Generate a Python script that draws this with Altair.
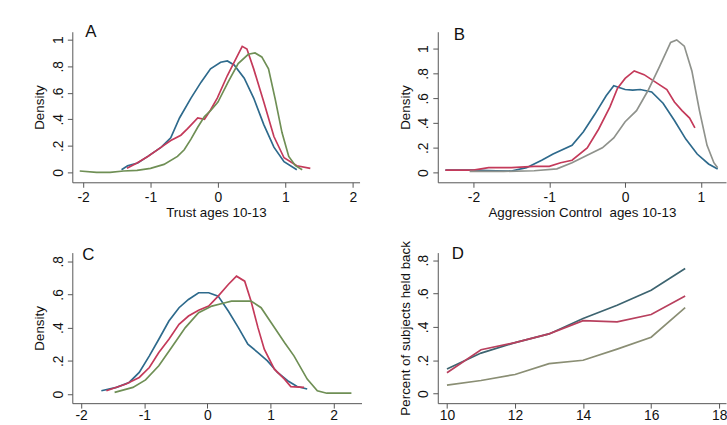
import altair as alt
import pandas as pd

FONT = "Liberation Sans"

# ---------------- Panel A : Trust ages 10-13 ----------------
a_blue_x = [-1.43, -1.34, -1.19, -1.04, -0.84, -0.70, -0.57, -0.40, -0.25, -0.11, 0.04, 0.14, 0.24, 0.39, 0.53, 0.68, 0.83, 0.98, 1.17]
a_blue_y = [0.02, 0.05, 0.07, 0.12, 0.19, 0.26, 0.41, 0.56, 0.68, 0.78, 0.83, 0.84, 0.81, 0.71, 0.56, 0.36, 0.19, 0.08, 0.02]
a_red_x = [-1.35, -1.2, -1.04, -0.84, -0.7, -0.55, -0.45, -0.30, -0.20, -0.11, -0.01, 0.14, 0.29, 0.36, 0.43, 0.53, 0.68, 0.83, 0.98, 1.17, 1.37]
a_red_y = [0.03, 0.07, 0.12, 0.19, 0.24, 0.28, 0.33, 0.41, 0.40, 0.47, 0.56, 0.73, 0.88, 0.95, 0.93, 0.78, 0.53, 0.27, 0.11, 0.05, 0.03]
a_green_x = [-2.05, -1.8, -1.6, -1.4, -1.2, -1.0, -0.8, -0.6, -0.5, -0.4, -0.3, -0.2, -0.1, 0.0, 0.15, 0.3, 0.45, 0.55, 0.65, 0.75, 0.85, 0.95, 1.05, 1.15, 1.25]
a_green_y = [0.01, 0.0, 0.0, 0.01, 0.015, 0.03, 0.06, 0.12, 0.17, 0.25, 0.34, 0.42, 0.47, 0.53, 0.68, 0.82, 0.89, 0.90, 0.87, 0.78, 0.55, 0.30, 0.12, 0.05, 0.02]

# ---------------- Panel B : Aggression Control ages 10-13 ----------------
b_blue_x = [-2.37, -2.0, -1.7, -1.5, -1.3, -1.1, -0.95, -0.7, -0.55, -0.4, -0.25, -0.15, 0.0, 0.1, 0.2, 0.35, 0.5, 0.65, 0.8, 0.95, 1.1, 1.22]
b_blue_y = [0.02, 0.02, 0.015, 0.013, 0.04, 0.10, 0.15, 0.22, 0.33, 0.47, 0.62, 0.70, 0.67, 0.665, 0.67, 0.65, 0.56, 0.42, 0.27, 0.15, 0.07, 0.03]
b_red_x = [-2.37, -2.0, -1.8, -1.5, -1.2, -1.0, -0.85, -0.7, -0.5, -0.35, -0.2, -0.1, 0.0, 0.12, 0.25, 0.4, 0.55, 0.65, 0.75, 0.85, 0.92]
b_red_y = [0.02, 0.02, 0.04, 0.04, 0.05, 0.05, 0.08, 0.10, 0.20, 0.35, 0.53, 0.68, 0.76, 0.82, 0.79, 0.73, 0.67, 0.57, 0.50, 0.44, 0.36]
b_grey_x = [-2.05, -1.6, -1.2, -0.9, -0.7, -0.5, -0.3, -0.15, 0.0, 0.15, 0.3, 0.45, 0.6, 0.68, 0.78, 0.88, 0.98, 1.08, 1.17, 1.22]
b_grey_y = [0.01, 0.01, 0.015, 0.03, 0.08, 0.14, 0.20, 0.28, 0.41, 0.50, 0.66, 0.85, 1.05, 1.07, 1.02, 0.82, 0.50, 0.22, 0.08, 0.04]

# ---------------- Panel C ----------------
c_blue_x = [-1.68, -1.44, -1.24, -1.08, -0.92, -0.77, -0.61, -0.45, -0.30, -0.14, 0.02, 0.17, 0.33, 0.49, 0.64, 0.80, 0.95, 1.11, 1.27, 1.42, 1.58]
c_blue_y = [0.02, 0.04, 0.07, 0.13, 0.23, 0.33, 0.44, 0.52, 0.57, 0.61, 0.61, 0.59, 0.50, 0.40, 0.30, 0.25, 0.20, 0.13, 0.08, 0.045, 0.03]
c_red_x = [-1.6, -1.29, -1.08, -0.92, -0.77, -0.61, -0.45, -0.30, -0.14, 0.02, 0.17, 0.33, 0.46, 0.59, 0.69, 0.80, 0.90, 1.06, 1.22, 1.32, 1.53]
c_red_y = [0.02, 0.06, 0.10, 0.16, 0.25, 0.33, 0.42, 0.47, 0.505, 0.53, 0.59, 0.66, 0.71, 0.68, 0.56, 0.40, 0.27, 0.15, 0.09, 0.045, 0.04]
c_green_x = [-1.47, -1.18, -0.98, -0.77, -0.56, -0.35, -0.14, 0.07, 0.28, 0.38, 0.69, 0.85, 1.01, 1.22, 1.37, 1.58, 1.74, 1.89, 2.28]
c_green_y = [0.01, 0.04, 0.085, 0.17, 0.285, 0.40, 0.49, 0.53, 0.55, 0.56, 0.56, 0.52, 0.43, 0.31, 0.23, 0.09, 0.02, 0.005, 0.005]

# ---------------- Panel D : Percent of subjects held back ----------------
d_age = [10, 11, 12, 13, 14, 15, 16, 17]
d_top = [0.148, 0.243, 0.306, 0.358, 0.45, 0.53, 0.62, 0.75]
d_red = [0.125, 0.263, 0.306, 0.358, 0.437, 0.43, 0.474, 0.585]
d_low = [0.051, 0.079, 0.115, 0.18, 0.20, 0.267, 0.338, 0.516]

series_names = ["1", "2", "3"]
colors_ac = ["#2e6a8c", "#c43a5a", "#6f8f55"]
colors_b = ["#2e6a8c", "#c43a5a", "#8f928c"]
colors_d = ["#3d6470", "#b8405e", "#8a8e74"]

Y_LABEL_EXPR = ("datum.value == 0 ? '0' : (abs(datum.value) < 1 ? "
                "replace(format(datum.value, '.1f'), '0.', '.') : format(datum.value, 'd'))")
X_LABEL_EXPR = "'' + datum.value"


def frame(xs_list, ys_list):
    rows = []
    for name, xs, ys in zip(series_names, xs_list, ys_list):
        for x, y in zip(xs, ys):
            rows.append({"x": x, "y": y, "s": name})
    return pd.DataFrame(rows)


def panel(df, colors, xdom, xticks, ydom, yticks, xtitle, ytitle, letter, lx, ly, w, h, xlabpad=3):
    xaxis = alt.Axis(values=xticks, labelExpr=X_LABEL_EXPR, title=xtitle, labelPadding=xlabpad, titlePadding=2)
    yaxis = alt.Axis(values=yticks, labelExpr=Y_LABEL_EXPR, title=ytitle, labelAngle=270,
                     labelAlign="center", labelBaseline="bottom", labelPadding=2, titlePadding=5)
    lines = alt.Chart(df).mark_line(strokeWidth=1.7, clip=True).encode(
        x=alt.X("x:Q", scale=alt.Scale(domain=xdom, nice=False, zero=False), axis=xaxis),
        y=alt.Y("y:Q", scale=alt.Scale(domain=ydom, nice=False, zero=False), axis=yaxis),
        color=alt.Color("s:N", scale=alt.Scale(domain=series_names, range=colors), legend=None),
    )
    lab = alt.Chart(pd.DataFrame({"t": [letter]})).mark_text(
        align="left", baseline="alphabetic", fontSize=17, font=FONT, color="#111"
    ).encode(x=alt.value(lx), y=alt.value(ly), text="t:N")
    return alt.layer(lines, lab).properties(width=w, height=h)


pa = panel(frame([a_blue_x, a_red_x, a_green_x], [a_blue_y, a_red_y, a_green_y]), colors_ac,
           [-2.16, 2.1], [-2, -1, 0, 1, 2], [-0.075, 1.06], [0, 0.2, 0.4, 0.6, 0.8, 1.0],
           "Trust ages 10-13", "Density", "A", 13, 5, 290, 152)
pb = panel(frame([b_blue_x, b_red_x, b_grey_x], [b_blue_y, b_red_y, b_grey_y]), colors_b,
           [-2.47, 1.33], [-2, -1, 0, 1], [-0.078, 1.136], [0, 0.2, 0.4, 0.6, 0.8, 1.0],
           "Aggression Control\u00a0 ages 10-13", "Density", "B", 16, 8, 291, 152)
pc = panel(frame([c_blue_x, c_red_x, c_green_x], [c_blue_y, c_red_y, c_green_y]), colors_ac,
           [-2.14, 2.44], [-2, -1, 0, 1, 2], [-0.055, 0.852], [0, 0.2, 0.4, 0.6, 0.8],
           None, "Density", "C", 10, 7, 292, 152, xlabpad=1)
pd_ = panel(frame([d_age, d_age, d_age], [d_top, d_red, d_low]), colors_d,
            [9.73, 18.2], [10, 12, 14, 16, 18], [-0.057, 0.845], [0, 0.2, 0.4, 0.6, 0.8],
            None, "Percent of subjects held back", "D", 14, 6, 291, 152, xlabpad=1)

chart = alt.concat(pa, pb, pc, pd_, columns=2, spacing={"row": 20, "column": 36}).resolve_scale(
    color="independent"
).properties(
    padding={"left": 33, "top": 21, "right": 0, "bottom": 0},
    background="white",
).configure_view(stroke=None).configure_axis(
    labelFont=FONT, titleFont=FONT, labelFontSize=14, titleFontSize=13.5,
    titleFontWeight="normal", labelColor="#111", titleColor="#111",
    domainColor="#555", tickColor="#555", domainWidth=1, tickWidth=1, tickSize=5,
    grid=False, labelFlush=False, labelOverlap=False,
)

chart.save("out.html", embed_options={"renderer": "svg", "actions": False})
